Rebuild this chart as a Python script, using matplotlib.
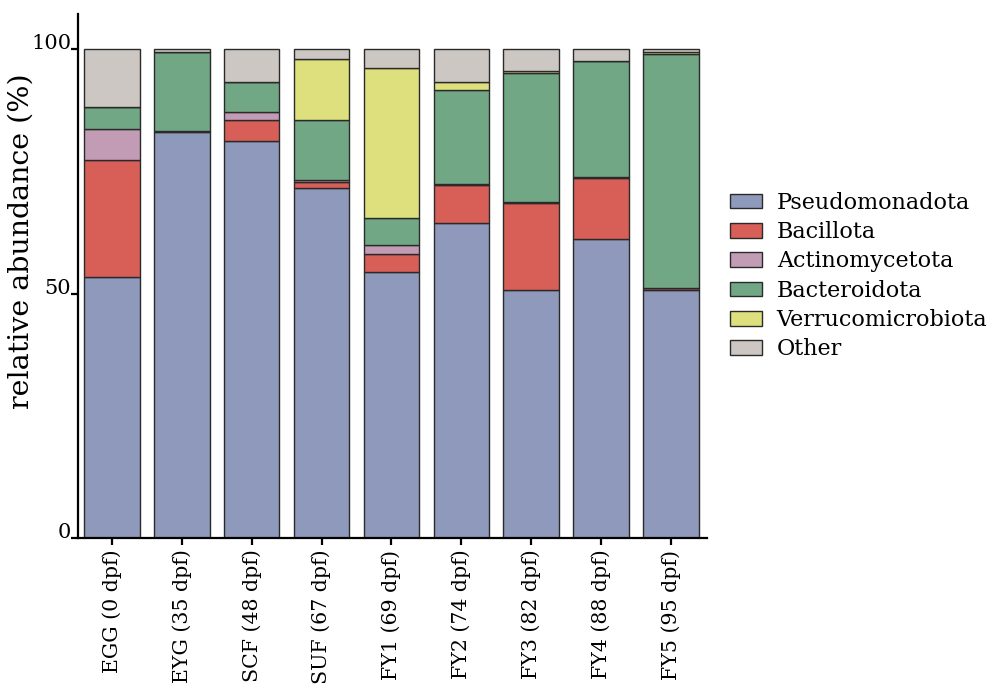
import matplotlib
matplotlib.use('Agg')
import matplotlib.pyplot as plt
import numpy as np

categories = ["EGG (0 dpf)", "EYG (35 dpf)", "SCF (48 dpf)", "SUF (67 dpf)", "FY1 (69 dpf)",
              "FY2 (74 dpf)", "FY3 (82 dpf)", "FY4 (88 dpf)", "FY5 (95 dpf)"]

pseudomonadota = [53.3, 83.1, 81.1, 71.6, 54.4, 64.5, 50.8, 61.2, 50.8]
bacillota = [24.0, 0.2, 4.3, 1.2, 3.6, 7.7, 17.8, 12.5, 0.3]
actinomycetota = [6.4, 0.0, 1.7, 0.4, 2.0, 0.2, 0.2, 0.2, 0.0]
bacteroidota = [4.4, 16.0, 6.1, 12.2, 5.4, 19.2, 26.2, 23.6, 47.9]
verrucomicrobiota = [0.0, 0.0, 0.0, 12.6, 30.6, 1.7, 0.4, 0.0, 0.3]
other = [11.9, 0.7, 6.8, 2.0, 4.0, 6.7, 4.6, 2.5, 0.7]

series = [
    ("Pseudomonadota", pseudomonadota, "#8e99bb"),
    ("Bacillota", bacillota, "#d85e58"),
    ("Actinomycetota", actinomycetota, "#c29bb5"),
    ("Bacteroidota", bacteroidota, "#72a785"),
    ("Verrucomicrobiota", verrucomicrobiota, "#dee07e"),
    ("Other", other, "#ccc7c2"),
]

plt.rcParams['font.family'] = ['DejaVu Serif']

fig = plt.figure(figsize=(10.07, 6.9), dpi=100)
ax = fig.add_axes([0.0775, 0.2196, 0.6245, 0.7604])

x = np.arange(len(categories))
bottom = np.zeros(len(categories))
for name, vals, col in series:
    vals = np.array(vals)
    ax.bar(x, vals, width=0.794, bottom=bottom, color=col, edgecolor='#2a2a2a',
           linewidth=1.0, label=name)
    bottom += vals

ax.set_xlim(-0.486, 8.515)
ax.set_ylim(0, 107.15)
ax.spines['top'].set_visible(False)
ax.spines['right'].set_visible(False)
ax.spines['left'].set_linewidth(1.6)
ax.spines['bottom'].set_linewidth(1.6)

ax.set_yticks([0, 50, 100])
ax.set_yticklabels(["0", "50", "100"])
ax.set_xticks(x)
ax.set_xticklabels(categories, rotation=90)
ax.tick_params(axis='both', direction='out', length=5, width=1.6)
ax.tick_params(axis='y', pad=0, labelsize=15)
ax.tick_params(axis='x', pad=3, labelsize=14.8)
for lab in ax.get_yticklabels():
    lab.set_verticalalignment('baseline')

fig.text(0.021, 0.651, "relative abundance (%)", rotation=90, fontsize=20.5,
         ha='center', va='center')

leg = ax.legend(loc='center left', bbox_to_anchor=(1.022, 0.5), frameon=False,
                fontsize=16, handlelength=1.44, handleheight=0.63, handletextpad=0.68,
                labelspacing=0.33, borderaxespad=0)

fig.savefig("out.png", dpi=100)
